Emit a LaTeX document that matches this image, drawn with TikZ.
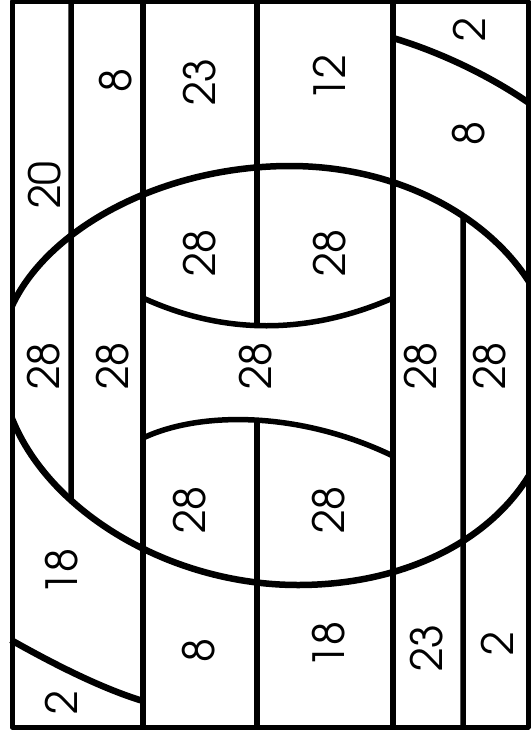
\documentclass[tikz,border=0pt]{standalone}
\usepackage{fontspec}
\setmainfont{TeX Gyre Adventor}
\usetikzlibrary{intersections}
\begin{document}
\begin{tikzpicture}[x=1pt,y=-1pt,line join=round,
  wall/.style={line width=5.5pt},
  oval/.style={line width=6.5pt},
  frame/.style={line width=5pt},
  lbl/.style={rotate=90,inner sep=0pt,font=\fontsize{43}{43}\selectfont}]
\useasboundingbox (0,0) rectangle (530,736);
\fill[white] (0,0) rectangle (530,736);
% big oval (egg shape), clipped to the frame
\path[name path=oval]
  (0,358) .. controls (0,256) and (137,166) .. (290,166)
          .. controls (437,166) and (557,260) .. (557,374)
          .. controls (557,505) and (440,585) .. (298,585)
          .. controls (145,585) and (0,480) .. (0,358) -- cycle;
\begin{scope}
\clip (12,1.5) rectangle (528,727);
\draw[oval]
  (0,358) .. controls (0,256) and (137,166) .. (290,166)
          .. controls (437,166) and (557,260) .. (557,374)
          .. controls (557,505) and (440,585) .. (298,585)
          .. controls (145,585) and (0,480) .. (0,358) -- cycle;
\end{scope}
% outer arcs
\draw[oval] (393,38) .. controls (440,52) and (490,76) .. (529,103);
\draw[oval] (11,640) .. controls (50,662) and (100,688) .. (143,701);
% inner arcs
\draw[wall] (143,298) .. controls (224,335) and (308,335) .. (393,298);
\draw[wall] (143,438) .. controls (200,411) and (300,411) .. (393,456);
% vertical lines
\path[name path=v71] (71,0) -- (71,736);
\path[name path=v463] (463,0) -- (463,736);
\path[name intersections={of=oval and v71,sort by=v71,name=pa}];
\path[name intersections={of=oval and v463,sort by=v463,name=pb}];
\coordinate (topA) at (71,1.5);
\coordinate (botB) at (463,727);
\draw[wall] (topA) -- (pa-2);
\draw[wall] (143,1.5) -- (143,727);
\draw[wall] (257,1.5) -- (257,326);
\draw[wall] (257,419) -- (257,727);
\draw[wall] (393,1.5) -- (393,727);
\draw[wall] (pb-1) -- (botB);
% frame
\draw[frame] (12,1.5) rectangle (528,727);
% labels
\node[lbl] (t20) at (45,185) {20};
\node[lbl] (t8a) at (116,81) {8};
\node[lbl] (t23a) at (200,82) {23};
\node[lbl] (t12) at (329,78) {12};
\node[lbl] (t2a) at (469,30) {2};
\node[lbl] (t8b) at (469,134) {8};
\node[lbl] (c1) at (200,253) {28};
\node[lbl] (c2) at (330,253) {28};
\node[lbl] (m1) at (44,366) {28};
\node[lbl] (m2) at (113,366) {28};
\node[lbl] (m3) at (256,366) {28};
\node[lbl] (m4) at (421,366) {28};
\node[lbl] (m5) at (490,366) {28};
\node[lbl] (c3) at (190,510) {28};
\node[lbl] (c4) at (329,510) {28};
\node[lbl] (t18a) at (62,572) {18};
\node[lbl] (t8c) at (199,651) {8};
\node[lbl] (t2b) at (61,703) {2};
\node[lbl] (t18b) at (329,645) {18};
\node[lbl] (t23b) at (427,648) {23};
\node[lbl] (t2c) at (497,644) {2};
\end{tikzpicture}
\end{document}
